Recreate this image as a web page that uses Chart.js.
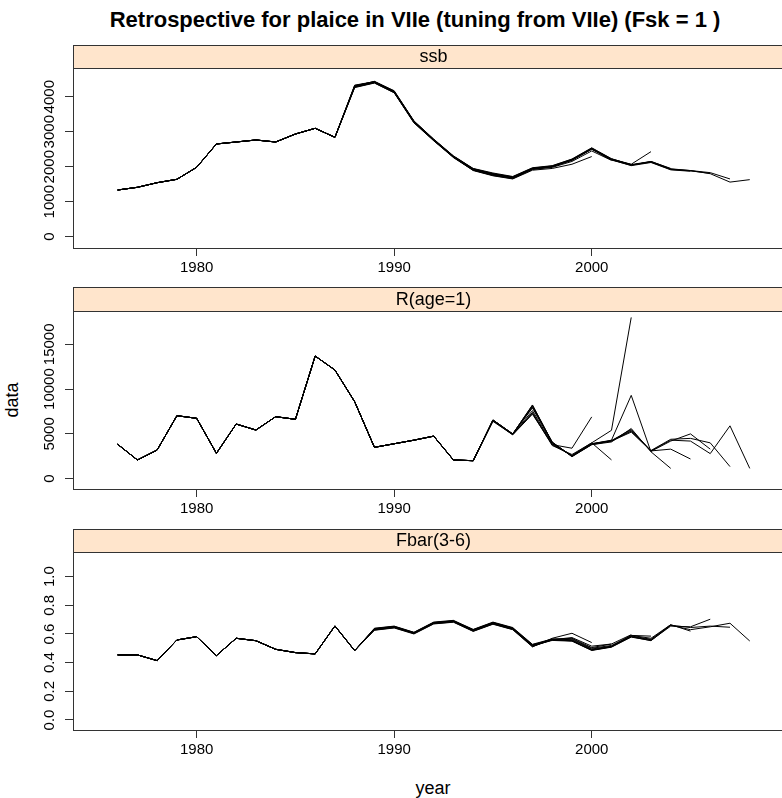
<!DOCTYPE html>
<html>
<head>
<meta charset="utf-8">
<script src="https://cdn.jsdelivr.net/npm/chart.js@4.4.0/dist/chart.umd.min.js"></script>
<style>
  html, body { margin: 0; padding: 0; background: #fff; overflow: hidden; }
  #wrap { position: relative; width: 782px; height: 798px; overflow: hidden; background: #fff; }
  canvas { position: absolute; left: 0; }
  .lbl { position: absolute; font-family: "Liberation Sans", Arial, sans-serif; color: #000; white-space: nowrap; }
  #title { left: 415px; top: 20px; transform: translate(-50%, -50%); font-size: 22px; font-weight: bold; line-height: 26px; }
  #ylab { left: 12px; top: 400px; transform: translate(-50%, -50%) rotate(-90deg); font-size: 18px; line-height: 20px; }
  #xlab { left: 433px; top: 788px; transform: translate(-50%, -50%); font-size: 18px; line-height: 20px; }
</style>
</head>
<body>
<div id="wrap">
  <div class="lbl" id="title">Retrospective for plaice in VIIe (tuning from VIIe) (Fsk = 1 )</div>
  <div class="lbl" id="ylab">data</div>
  <div class="lbl" id="xlab">year</div>
  <canvas id="pSsb"></canvas>
  <canvas id="pRec"></canvas>
  <canvas id="pFbar"></canvas>
</div>
<script>
// ---- data -------------------------------------------------------------
const firstYear = 1976;
const yearTicks = [1980, 1990, 2000];

// final assessment (1976-2008)
const ssbFinal = [1334, 1411, 1543, 1640, 1983, 2649, 2706, 2763, 2706, 2934, 3097, 2840, 4290, 4420, 4150, 3290, 2770, 2290, 1930, 1790, 1700, 1950, 2010, 2200, 2520, 2210, 2050, 2140, 1930, 1890, 1800, 1560, 1630];
const recFinal = [3840, 2090, 3200, 7030, 6740, 2830, 6100, 5430, 6920, 6630, 13690, 12130, 8590, 3500, 3900, 4300, 4750, 2090, 2010, 6550, 4990, 8230, 4060, 2530, 3870, 4240, 5400, 3100, 4300, 4200, 2800, 5900, 1150];
const fbarFinal = [0.454, 0.454, 0.414, 0.558, 0.581, 0.449, 0.570, 0.553, 0.493, 0.470, 0.461, 0.656, 0.484, 0.635, 0.651, 0.609, 0.679, 0.691, 0.628, 0.679, 0.640, 0.523, 0.558, 0.553, 0.488, 0.512, 0.581, 0.553, 0.661, 0.630, 0.650, 0.675, 0.551];

// retrospective runs: values from the year where each run departs from the final one
const ssbRetroStart = 1988;
const ssbRetro2007 = [4330, 4430, 4160, 3300, 2780, 2300, 1940, 1800, 1710, 1960, 2020, 2210, 2530, 2220, 2060, 2150, 1940, 1890, 1830, 1650];
const ssbRetro2006 = [4300, 4440, 4170, 3310, 2790, 2310, 1950, 1820, 1720, 1970, 2030, 2220, 2540, 2230, 2050, 2130, 1920, 1880, 1810];
const ssbRetro2005 = [4310, 4430, 4140, 3280, 2760, 2280, 1920, 1780, 1690, 1940, 2000, 2190, 2510, 2200, 2030, 2120, 1910, 1870];
const ssbRetro2004 = [4290, 4410, 4130, 3270, 2760, 2280, 1910, 1770, 1680, 1930, 2000, 2180, 2500, 2190, 2040, 2150, 1950];
const ssbRetro2003 = [4320, 4420, 4150, 3300, 2780, 2300, 1940, 1800, 1700, 1950, 2010, 2200, 2510, 2220, 2070, 2430];
const ssbRetro2002 = [4280, 4400, 4120, 3270, 2750, 2270, 1900, 1760, 1670, 1940, 2000, 2190, 2500, 2200, 2060];
const ssbRetro2001 = [4270, 4400, 4120, 3260, 2750, 2270, 1900, 1750, 1660, 1920, 1980, 2150, 2450, 2180];
const ssbRetro2000 = [4260, 4390, 4110, 3250, 2740, 2260, 1890, 1740, 1650, 1900, 1950, 2070, 2290];

const recRetroStart = 1995;
const recRetro2007 = [6550, 4990, 8200, 4050, 2500, 3850, 4200, 5300, 3150, 4400, 4500, 4000, 1350];
const recRetro2006 = [6560, 5000, 8100, 4000, 2550, 3900, 4250, 5500, 3050, 4200, 5000, 3300];
const recRetro2005 = [6500, 4950, 8000, 4100, 2450, 3800, 4200, 5200, 3100, 3300, 2200];
const recRetro2004 = [6550, 5000, 7900, 4000, 2500, 3800, 4100, 5600, 3000, 1150];
const recRetro2003 = [6500, 4950, 7600, 3900, 2550, 3900, 4300, 9300, 3000];
const recRetro2002 = [6500, 4900, 7400, 3800, 2600, 4000, 5400, 18000];
const recRetro2001 = [6450, 4950, 7300, 3700, 2700, 4000, 2100];
const recRetro2000 = [6400, 4900, 7200, 3800, 3400, 6900];

const fbarRetroStart = 1989;
const fbarRetro2007 = [0.640, 0.655, 0.612, 0.683, 0.695, 0.632, 0.683, 0.645, 0.528, 0.565, 0.560, 0.495, 0.515, 0.586, 0.563, 0.661, 0.645, 0.655, 0.647];
const fbarRetro2006 = [0.632, 0.648, 0.606, 0.676, 0.688, 0.625, 0.676, 0.637, 0.518, 0.555, 0.550, 0.485, 0.508, 0.578, 0.555, 0.655, 0.650, 0.703];
const fbarRetro2005 = [0.638, 0.653, 0.610, 0.680, 0.692, 0.630, 0.680, 0.642, 0.525, 0.560, 0.555, 0.490, 0.512, 0.590, 0.570, 0.665, 0.620];
const fbarRetro2004 = [0.636, 0.650, 0.607, 0.678, 0.690, 0.627, 0.678, 0.638, 0.520, 0.558, 0.552, 0.487, 0.510, 0.582, 0.560, 0.665];
const fbarRetro2003 = [0.634, 0.650, 0.608, 0.678, 0.689, 0.627, 0.677, 0.640, 0.522, 0.565, 0.565, 0.500, 0.520, 0.590, 0.585];
const fbarRetro2002 = [0.630, 0.646, 0.605, 0.674, 0.686, 0.622, 0.672, 0.634, 0.515, 0.560, 0.570, 0.505, 0.530, 0.595];
const fbarRetro2001 = [0.628, 0.644, 0.603, 0.672, 0.684, 0.620, 0.670, 0.632, 0.512, 0.560, 0.575, 0.515, 0.530];
const fbarRetro2000 = [0.626, 0.642, 0.600, 0.670, 0.682, 0.618, 0.668, 0.630, 0.510, 0.570, 0.605, 0.540];

// tick values and their printed labels
const ssbTicks = [0, 1000, 2000, 3000, 4000];
const ssbTickLabels = ['0', '1000', '2000', '3000', '4000'];
const recTicks = [0, 5000, 10000, 15000];
const recTickLabels = ['0', '5000', '10000', '15000'];
const fbarTicks = [0, 0.2, 0.4, 0.6, 0.8, 1.0];
const fbarTickLabels = ['0.0', '0.2', '0.4', '0.6', '0.8', '1.0'];

// ---- layout -----------------------------------------------------------
const CANVAS_W = 800;
const PLOT_LEFT = 73;
const PLOT_RIGHT = 794;
const X_MIN = 1973.74;
const X_MAX = 2010.24;
const FONT = '"Liberation Sans", Arial, sans-serif';

function series(values) {
  return values.map((v, i) => ({ x: firstYear + i, y: v }));
}
function retroRun(finalVals, start, tail) {
  return series(finalVals.slice(0, start - firstYear).concat(tail));
}

const panelDecor = {
  id: 'panelDecor',
  afterDraw(chart, args, opts) {
    const ctx = chart.ctx;
    const a = chart.chartArea;
    ctx.save();
    // strip
    ctx.fillStyle = '#FFE5CC';
    ctx.fillRect(a.left, 0, a.right - a.left, a.top);
    ctx.strokeStyle = '#333';
    ctx.lineWidth = 1;
    ctx.strokeRect(a.left + 0.5, 0.5, a.right - a.left, a.top);
    ctx.fillStyle = '#000';
    ctx.font = '18px ' + FONT;
    ctx.textAlign = 'center';
    ctx.textBaseline = 'middle';
    ctx.fillText(opts.strip, (a.left + a.right) / 2, a.top / 2 + 1);
    // panel frame
    ctx.strokeRect(a.left + 0.5, a.top + 0.5, a.right - a.left, a.bottom - a.top);
    // rotated y tick labels
    const ys = chart.scales.y;
    ctx.font = '15px ' + FONT;
    ys.ticks.forEach((t, i) => {
      const py = ys.getPixelForValue(t.value);
      ctx.save();
      ctx.translate(50, py);
      ctx.rotate(-Math.PI / 2);
      ctx.fillText(opts.tickLabels[i], 0, 0);
      ctx.restore();
    });
    ctx.restore();
  }
};

function makePanel(id, p) {
  const cv = document.getElementById(id);
  const H = p.plotBottom - p.stripTop + 40;
  cv.width = CANVAS_W;
  cv.height = H;
  cv.style.top = p.stripTop + 'px';
  const stripH = p.plotTop - p.stripTop;
  const plotH = p.plotBottom - p.plotTop;

  const datasets = [{ data: series(p.final) }].concat(
    p.retro.map(r => ({ data: retroRun(p.final, p.retroStart, r) }))
  );

  new Chart(cv, {
    type: 'line',
    data: { datasets },
    options: {
      responsive: false,
      animation: false,
      devicePixelRatio: 1,
      layout: { padding: { top: stripH, left: 0, right: CANVAS_W - PLOT_RIGHT, bottom: 0 } },
      elements: {
        point: { radius: 0 },
        line: { borderWidth: 1, borderColor: '#000', tension: 0 }
      },
      plugins: {
        legend: { display: false },
        tooltip: { enabled: false },
        panelDecor: { strip: p.strip, tickLabels: p.tickLabels }
      },
      scales: {
        x: {
          type: 'linear',
          min: X_MIN,
          max: X_MAX,
          afterFit: s => { s.height = H - stripH - plotH; },
          afterBuildTicks: s => { s.ticks = yearTicks.map(v => ({ value: v })); },
          grid: { drawOnChartArea: false, drawTicks: true, tickLength: 8, tickColor: '#333', lineWidth: 1 },
          border: { display: false },
          ticks: {
            color: '#000', font: { family: FONT, size: 15 }, padding: 3,
            maxRotation: 0, minRotation: 0, autoSkip: false,
            callback: v => String(v)
          }
        },
        y: {
          type: 'linear',
          min: p.yMin,
          max: p.yMax,
          afterFit: s => { s.width = PLOT_LEFT; },
          afterBuildTicks: s => { s.ticks = p.ticks.map(v => ({ value: v })); },
          grid: { drawOnChartArea: false, drawTicks: true, tickLength: 8, tickColor: '#333', lineWidth: 1 },
          border: { display: false },
          ticks: { display: false }
        }
      }
    },
    plugins: [panelDecor]
  });
}

makePanel('pSsb', {
  strip: 'ssb', stripTop: 45, plotTop: 68, plotBottom: 248,
  yMin: -323, yMax: 4820, ticks: ssbTicks, tickLabels: ssbTickLabels,
  final: ssbFinal, retroStart: ssbRetroStart,
  retro: [ssbRetro2007, ssbRetro2006, ssbRetro2005, ssbRetro2004, ssbRetro2003, ssbRetro2002, ssbRetro2001, ssbRetro2000]
});
makePanel('pRec', {
  strip: 'R(age=1)', stripTop: 287, plotTop: 311, plotBottom: 489,
  yMin: -1150, yMax: 18717, ticks: recTicks, tickLabels: recTickLabels,
  final: recFinal, retroStart: recRetroStart,
  retro: [recRetro2007, recRetro2006, recRetro2005, recRetro2004, recRetro2003, recRetro2002, recRetro2001, recRetro2000]
});
makePanel('pFbar', {
  strip: 'Fbar(3-6)', stripTop: 529, plotTop: 552, plotBottom: 730,
  yMin: -0.070, yMax: 1.172, ticks: fbarTicks, tickLabels: fbarTickLabels,
  final: fbarFinal, retroStart: fbarRetroStart,
  retro: [fbarRetro2007, fbarRetro2006, fbarRetro2005, fbarRetro2004, fbarRetro2003, fbarRetro2002, fbarRetro2001, fbarRetro2000]
});
</script>
</body>
</html>
